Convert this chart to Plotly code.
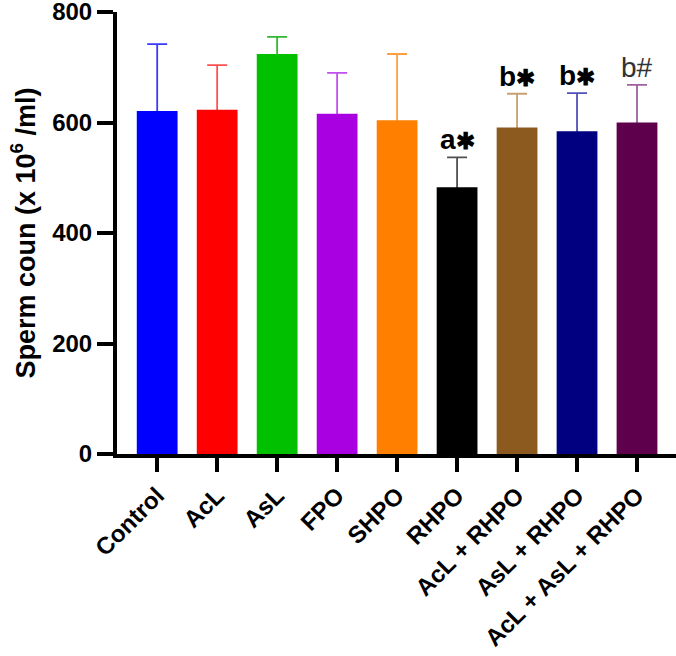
import plotly.graph_objects as go

categories = ["Control", "AcL", "AsL", "FPO", "SHPO", "RHPO",
              "AcL + RHPO", "AsL + RHPO", "AcL + AsL + RHPO"]
means = [621, 623, 724, 616, 604, 483, 591, 584, 600]
sem = [121, 81, 31, 74, 120, 54, 61, 69, 68]
labels = ["", "", "", "", "", "a*", "b*", "b*", "b#"]
bar_colors = ["#0000FF", "#FF0000", "#00C000", "#A800E0", "#FF8000",
              "#000000", "#8C5A1E", "#000080", "#5E004C"]
err_colors = ["#3A3AFF", "#FF5050", "#30B830", "#C050F0", "#FFA040",
              "#505050", "#C8A070", "#5050B8", "#A060A0"]

fig = go.Figure()
for i, c in enumerate(categories):
    # error bar carrier (hidden below the visible bar)
    fig.add_trace(go.Bar(
        x=[c], y=[means[i]],
        marker=dict(color="rgba(0,0,0,0)", line=dict(width=0)),
        width=0.68,
        error_y=dict(type="data", array=[sem[i]], symmetric=True,
                     color=err_colors[i], thickness=1.8, width=10),
        showlegend=False, hoverinfo="skip",
    ))
    fig.add_trace(go.Bar(
        x=[c], y=[means[i]],
        marker=dict(color=bar_colors[i], line=dict(width=0)),
        width=0.68,
        showlegend=False,
    ))

for i, t in enumerate(labels):
    if t:
        if t.endswith("*"):
            txt = "<b>%s</b><b><span style='font-size:23px'>\u2731</span></b>" % t[0]
            col = "#000000"
        else:
            txt = t
            col = "#333333"
        fig.add_annotation(
            x=categories[i], y=means[i] + sem[i],
            text=txt,
            showarrow=False, yanchor="bottom", yshift=0,
            font=dict(size=28, color=col, family="Arial, Liberation Sans"),
        )

fig.update_layout(
    width=676, height=656,
    margin=dict(l=117, r=0, t=12, b=202),
    plot_bgcolor="white", paper_bgcolor="white",
    font=dict(family="Arial, Liberation Sans", color="black"),
    barmode="overlay",
)
fig.update_yaxes(
    range=[0, 800], tickvals=[0, 200, 400, 600, 800],
    ticktext=["<b>0</b>", "<b>200</b>", "<b>400</b>", "<b>600</b>", "<b>800</b>"],
    tickfont=dict(size=24), ticklabeloverflow="allow", automargin=False,
    showline=True, linewidth=4, linecolor="black",
    ticks="outside", ticklen=16, tickwidth=4, tickcolor="black",
    showgrid=False, zeroline=False,
    title=dict(text="<b>Sperm coun (x 10<sup>6</sup> /ml)</b>", font=dict(size=27), standoff=10),
)
fig.update_xaxes(
    range=[-0.67, 8.65],
    tickvals=categories,
    ticktext=["<b>%s</b>" % c for c in categories],
    tickangle=-45, tickfont=dict(size=24), automargin=False,
    showline=True, linewidth=4, linecolor="black",
    ticks="outside", ticklen=14, tickwidth=4, tickcolor="black",
    showgrid=False, zeroline=False,
)

fig.write_html("out.html")
